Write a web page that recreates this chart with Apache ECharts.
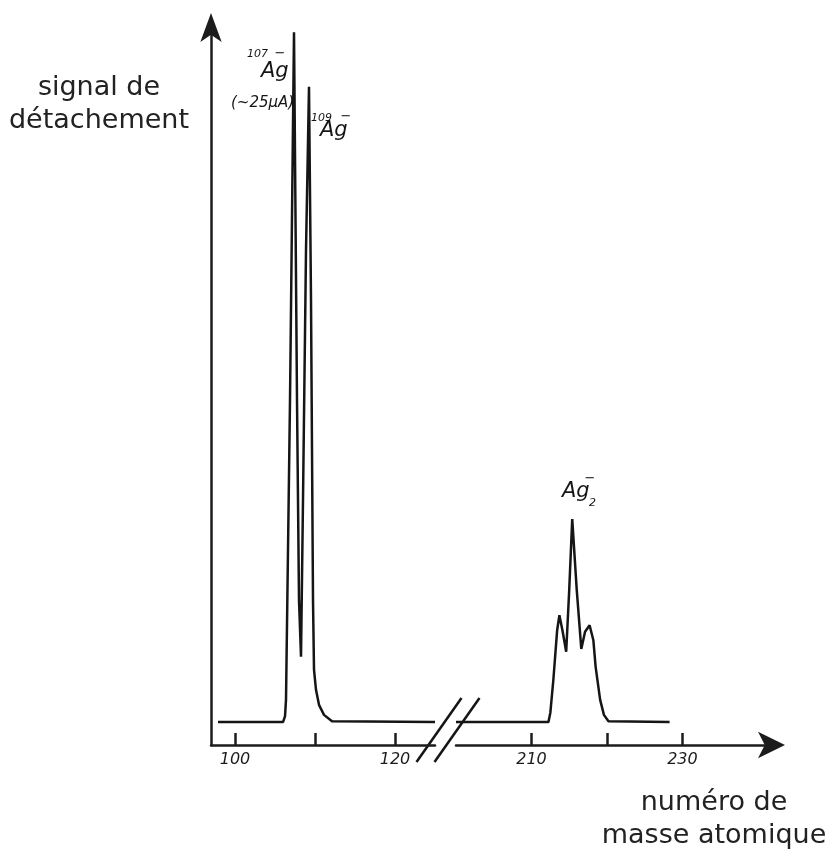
<!DOCTYPE html>
<html>
<head>
<meta charset="utf-8">
<script src="https://cdn.jsdelivr.net/npm/echarts@6/dist/echarts.min.js"></script>
<style>
html, body { margin: 0; padding: 0; background: #fff; }
#main { width: 830px; height: 853px; }
</style>
</head>
<body>
<div id="main"></div>
<script>
// Ag- isotopes (mass 107 / 109), left part of the broken axis
var massAg = [97.875, 106.0, 106.25, 106.375, 106.875, 107.375, 107.75, 108.0, 108.25, 108.5, 108.875, 109.25, 109.5, 109.75, 109.875, 110.125, 110.5, 111.125, 112.125, 125];
var signalAg = [3.2, 3.2, 4.0, 6.3, 48.1, 99.4, 48.1, 20.2, 12.3, 34.2, 69.0, 91.8, 62.1, 20.2, 10.5, 7.7, 5.6, 4.2, 3.3, 3.2];

// Ag2- dimer, right part of the broken axis
var massAg2 = [200, 212.25, 212.5, 212.9, 213.4, 213.7, 214.1, 214.6, 215.0, 215.4, 216.0, 216.6, 217.1, 217.7, 218.2, 218.5, 219.1, 219.6, 220.2, 228.3];
var signalAg2 = [3.2, 3.2, 4.5, 9.1, 16.0, 18.1, 16.0, 13.0, 21.6, 31.5, 21.6, 13.4, 15.8, 16.7, 14.6, 10.9, 6.3, 4.2, 3.3, 3.2];

var ticksLeft = [100, 110, 120];
var labelsLeft = [100, 120];
var ticksRight = [210, 220, 230];
var labelsRight = [210, 230];

function zip(xs, ys) {
    var out = [];
    for (var i = 0; i < xs.length; i++) {
        out.push([xs[i], ys[i]]);
    }
    return out;
}

var ink = '#151515';
var axisStyle = { color: '#1c1c1c', width: 2.5 };
var labelStyle = {
    color: '#1c1c1c',
    fontFamily: 'DejaVu Sans',
    fontStyle: 'italic',
    fontSize: 16,
    margin: 7
};

var myChart = echarts.init(document.getElementById('main'));

option = {
    animation: false,
    backgroundColor: '#fff',
    grid: [
        { left: 211, top: 28, width: 224, height: 717 },
        { left: 456, top: 28, width: 317, height: 717 }
    ],
    xAxis: [
        {
            gridIndex: 0, type: 'value', min: 97, max: 125,
            axisLine: { show: true, onZero: false, lineStyle: axisStyle },
            axisTick: { show: true, inside: true, length: 12, customValues: ticksLeft, lineStyle: axisStyle },
            axisLabel: Object.assign({ customValues: labelsLeft }, labelStyle),
            splitLine: { show: false }
        },
        {
            gridIndex: 1, type: 'value', min: 200, max: 242,
            axisLine: {
                show: true, onZero: false, lineStyle: axisStyle,
                symbol: ['none', 'arrow'], symbolSize: [20, 27], symbolOffset: [0, 12]
            },
            axisTick: { show: true, inside: true, length: 12, customValues: ticksRight, lineStyle: axisStyle },
            axisLabel: Object.assign({ customValues: labelsRight }, labelStyle),
            splitLine: { show: false }
        }
    ],
    yAxis: [
        {
            gridIndex: 0, type: 'value', min: 0, max: 100,
            axisLine: {
                show: true, lineStyle: axisStyle,
                symbol: ['none', 'arrow'], symbolSize: [16, 29], symbolOffset: [0, 15]
            },
            axisTick: { show: false },
            axisLabel: { show: false },
            splitLine: { show: false }
        },
        {
            gridIndex: 1, type: 'value', min: 0, max: 100, show: false,
            splitLine: { show: false }
        }
    ],
    series: [
        {
            type: 'line', xAxisIndex: 0, yAxisIndex: 0,
            data: zip(massAg, signalAg),
            showSymbol: false,
            lineStyle: { color: ink, width: 2.5 }
        },
        {
            type: 'line', xAxisIndex: 1, yAxisIndex: 1,
            data: zip(massAg2, signalAg2),
            showSymbol: false,
            lineStyle: { color: ink, width: 2.5 }
        }
    ]
};
myChart.setOption(option);

// break marks and annotations
var leftEnd = myChart.convertToPixel({ gridIndex: 0 }, [125, 0]);
var rightStart = myChart.convertToPixel({ gridIndex: 1 }, [200, 0]);
var mid = (leftEnd[0] + rightStart[0]) / 2;
var ay = leftEnd[1];

function slash(cx) {
    return {
        type: 'line',
        shape: { x1: cx - 22, y1: ay + 17, x2: cx + 23, y2: ay - 47 },
        style: { stroke: ink, lineWidth: 2.5 }
    };
}

function txt(s, x, y, size, align) {
    return {
        type: 'text',
        style: {
            text: s, x: x, y: y, textAlign: align || 'left', textVerticalAlign: 'middle',
            font: 'italic ' + size + 'px "DejaVu Sans"', fill: ink
        }
    };
}

myChart.setOption({
    graphic: [
        slash(mid - 7),
        slash(mid + 11),
        {
            type: 'text',
            style: {
                text: 'signal de\ndétachement', x: 99, y: 71, textAlign: 'center',
                font: '27px "DejaVu Sans"', lineHeight: 33, fill: '#222'
            }
        },
        {
            type: 'text',
            style: {
                text: 'numéro de\nmasse atomique', x: 714, y: 786, textAlign: 'center',
                font: '27px "DejaVu Sans"', lineHeight: 33, fill: '#222'
            }
        },
        // 107Ag-
        txt('107', 247, 54, 11),
        txt('Ag', 261, 72, 21),
        txt('−', 280, 54, 13, 'center'),
        txt('(~25μA)', 231, 103, 15),
        // 109Ag-
        txt('109', 311, 118, 11),
        txt('Ag', 320, 131, 21),
        txt('−', 346, 117, 13, 'center'),
        // Ag2-
        txt('Ag', 562, 492, 21),
        txt('2', 589, 503, 11),
        txt('−', 590, 479, 13, 'center')
    ]
});
</script>
</body>
</html>
